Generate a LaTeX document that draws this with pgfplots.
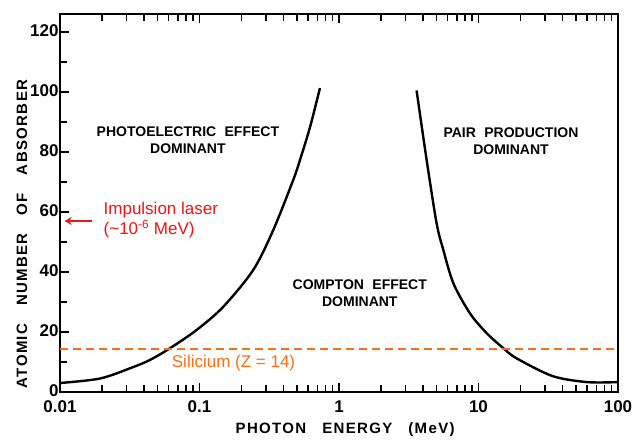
\documentclass[border=0pt]{standalone}
\usepackage{fontspec}
\setmainfont{Liberation Sans}
\newfontfamily\labfont[LetterSpace=9]{Liberation Sans}
\usepackage{pgfplots}
\usetikzlibrary{arrows.meta}
\pgfplotsset{compat=1.18}
\definecolor{sior}{RGB}{250,110,20}
\definecolor{lred}{RGB}{240,20,20}
\begin{document}
\begin{tikzpicture}
\begin{axis}[
  scale only axis, width=558pt, height=378pt,
  xmode=log, log basis x=10,
  xmin=0.01, xmax=100, ymin=0, ymax=126,
  xtick={0.01,0.1,1,10,100}, xticklabels={0.01,0.1,1,10,100},
  minor xtick={0.02,0.03,0.04,0.05,0.06,0.07,0.08,0.09,0.2,0.3,0.4,0.5,0.6,0.7,0.8,0.9,2,3,4,5,6,7,8,9,20,30,40,50,60,70,80,90},
  ytick={0,20,40,60,80,100,120}, minor ytick={10,30,50,70,90,110},
  ytick pos=left, xtick pos=both,
  tick align=inside,
  major tick length=9pt, minor tick length=7pt,
  every tick/.style={black, line width=1.3pt},
  axis line style={line width=1.6pt},
  /pgf/number format/assume math mode=true,
  xticklabel style={font=\bfseries\fontsize{17}{17}\selectfont, yshift=-5pt},
  yticklabel style={font=\bfseries\fontsize{17}{17}\selectfont, xshift=2pt, yshift=1pt},
  xlabel={\labfont\bfseries\fontsize{15}{15}\selectfont PHOTON\hspace{16pt}ENERGY\hspace{16pt}(MeV)},
  ylabel={\labfont\bfseries\fontsize{15}{15}\selectfont ATOMIC\hspace{18pt}NUMBER\hspace{18pt}OF\hspace{18pt}ABSORBER},
  xlabel style={at={(axis description cs:0.511,-0.10)}, anchor=center},
  ylabel style={at={(axis description cs:-0.068,0.418)}, anchor=center, rotate=0},
  clip=false,
]
\addplot[black, line width=2.4pt, smooth, tension=0.5] coordinates {
 (0.01,3) (0.0194,4.5) (0.033,8.2) (0.0442,10.7) (0.0615,14.6) (0.0955,20.7) (0.148,28.4) (0.243,40.7) (0.338,54) (0.47,70.7) (0.525,77.3) (0.62,88.3) (0.73,101.3)
};
\addplot[black, line width=2.4pt, smooth, tension=0.5] coordinates {
 (3.6,100.5) (4.25,77.3) (5.01,56.2) (5.6,47.3) (6.61,36.2) (8.69,26.2) (11.45,19.6) (15.07,14.6) (18.8,11.2) (34,5.3) (60,3.3) (100,3.3)
};
\addplot[sior, line width=2pt, dash pattern=on 8pt off 5pt] coordinates {(0.01,14.5) (100,14.5)};
\node[sior, font=\fontsize{17}{17}\selectfont] at (axis cs:0.1754,9.7) {Silicium (Z = 14)};
\draw[lred, line width=1.7pt, -{Stealth[length=7pt,width=8pt]}] (axis cs:0.01695,57) -- (axis cs:0.0108,57);
\node[lred, anchor=west, align=left, font=\fontsize{17}{20}\selectfont] at (axis cs:0.0194,57.3) {Impulsion laser\\(\char`~10\textsuperscript{-6} MeV)};
\node[align=center, font=\bfseries\fontsize{14}{17}\selectfont] at (axis cs:0.0826,84) {PHOTOELECTRIC\hspace{0.6em}EFFECT\\DOMINANT};
\node[align=center, font=\bfseries\fontsize{14}{17}\selectfont] at (axis cs:1.41,33) {COMPTON\hspace{0.6em}EFFECT\\DOMINANT};
\node[align=center, font=\bfseries\fontsize{14}{17}\selectfont] at (axis cs:17.1,83.7) {PAIR\hspace{0.6em}PRODUCTION\\DOMINANT};
\end{axis}
\pgfresetboundingbox
\path ([shift={(-60pt,-47pt)}]current axis.south west) rectangle ([shift={(21pt,14pt)}]current axis.north east);
\end{tikzpicture}
\end{document}
